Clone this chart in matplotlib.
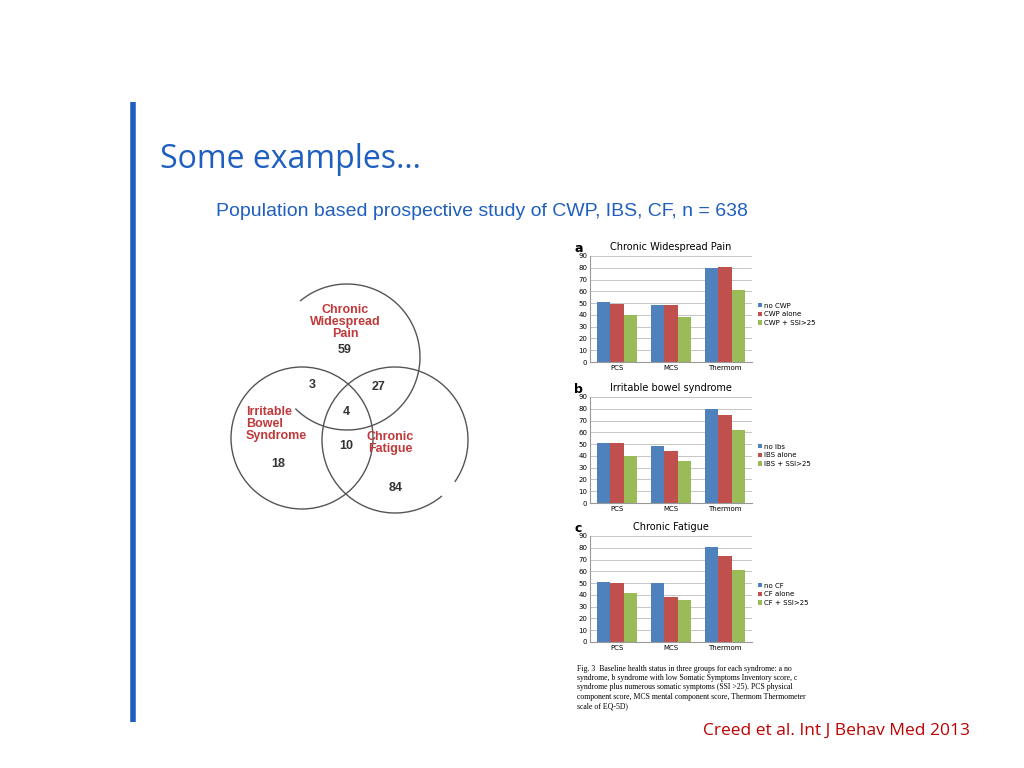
import numpy as np
import matplotlib.pyplot as plt
from matplotlib.patches import Arc

groups = ["PCS", "MCS", "Thermom"]
panels = [
    ("a", "Chronic Widespread Pain", ["no CWP", "CWP alone", "CWP + SSI>25"],
     [[51, 48, 80], [49, 48, 81], [40, 38, 61]]),
    ("b", "Irritable bowel syndrome", ["no Ibs", "IBS alone", "IBS + SSI>25"],
     [[51, 48, 80], [51, 44, 75], [40, 36, 62]]),
    ("c", "Chronic Fatigue", ["no CF", "CF alone", "CF + SSI>25"],
     [[51, 50, 81], [50, 38, 73], [42, 36, 61]]),
]
bar_colors = ["#4f81bd", "#c0504d", "#9bbb59"]

# venn: region counts and labels
venn_counts = [("59", 345, 350), ("3", 312, 385), ("27", 379, 387), ("4", 346, 412),
               ("10", 346, 446), ("18", 278, 464), ("84", 396, 488)]
venn_labels = [("Chronic\nWidespread\nPain", 345, 322), ("Irritable\nBowel\nSyndrome", 246, 424),
               ("Chronic\nFatigue", 390, 443)]

W, H = 1024, 768
fig = plt.figure(figsize=(W / 100, H / 100), dpi=100)
bg = fig.add_axes([0, 0, 1, 1])
bg.set_xlim(0, W)
bg.set_ylim(H, 0)
bg.axis("off")

bg.plot([133, 133], [102, 722], color="#1f5fbf", lw=4, solid_capstyle="butt")
bg.text(160, 160, "Some examples\u2026", fontsize=23, color="#1f5fbf", va="center",
        family="Open Sans")
bg.text(216, 211, "Population based prospective study of CWP, IBS, CF, n = 638",
        fontsize=14, color="#1f5fbf", va="center", family="Liberation Sans")
bg.text(970, 731, "Creed et al. Int J Behav Med 2013", fontsize=12.5, color="#c00000",
        ha="right", va="center", family="Open Sans")

# venn circles (pixel coords, y inverted so angles run clockwise on screen)
circles = [((347, 357), 73, 135, 95), ((302, 438), 71, 0, 0), ((395, 440), 73, 35, 15)]
for (cx, cy), r, start, gap in circles:
    if gap:
        bg.add_patch(Arc((cx, cy), 2 * r, 2 * r, theta1=start + gap, theta2=start + 360,
                         color="#555555", lw=1))
    else:
        bg.add_patch(Arc((cx, cy), 2 * r, 2 * r, color="#555555", lw=1))
for t, x, y in venn_counts:
    bg.text(x, y, t, fontsize=9, fontweight="bold", color="#333333", ha="center",
            va="center", family="Liberation Sans")
for t, x, y in venn_labels:
    bg.text(x, y, t, fontsize=9, fontweight="bold", color="#c0393b", ha="center" if x > 300 else "left",
            va="center", family="Liberation Sans", linespacing=1.05)

# bar charts
tops = [256, 397, 536]
x = np.arange(len(groups))
w = 0.25
for (letter, title, names, vals), top in zip(panels, tops):
    ax = fig.add_axes([590 / W, 1 - (top + 106) / H, 162 / W, 106 / H])
    for i in range(3):
        ax.bar(x + (i - 1) * w, vals[i], w, color=bar_colors[i], label=names[i])
    ax.set_ylim(0, 90)
    ax.set_yticks(range(0, 91, 10))
    ax.set_xlim(-0.5, 2.5)
    ax.set_xticks(x)
    ax.set_xticklabels(groups)
    ax.tick_params(labelsize=5, length=0, pad=2)
    ax.yaxis.grid(True, color="#bbbbbb", lw=0.6)
    ax.set_axisbelow(True)
    for s in ["top", "right"]:
        ax.spines[s].set_visible(False)
    for s in ["left", "bottom"]:
        ax.spines[s].set_color("#999999")
    ax.legend(loc="center left", bbox_to_anchor=(1.0, 0.45), fontsize=5, frameon=False,
              handlelength=0.6, handleheight=0.6, handletextpad=0.3, labelspacing=0.4)
    ax.set_title(title, fontsize=7, pad=4)
    ax.text(-0.07, 1.07, letter, transform=ax.transAxes, fontsize=9, fontweight="bold",
            ha="center", va="center")

caption = ("Fig. 3  Baseline health status in three groups for each syndrome: a no\n"
           "syndrome, b syndrome with low Somatic Symptoms Inventory score, c\n"
           "syndrome plus numerous somatic symptoms (SSI >25). PCS physical\n"
           "component score, MCS mental component score, Thermom Thermometer\n"
           "scale of EQ-5D)")
bg.text(577, 665, caption, fontsize=5.6, family="Liberation Serif", va="top", linespacing=1.2)

fig.savefig("out.png", dpi=100)
